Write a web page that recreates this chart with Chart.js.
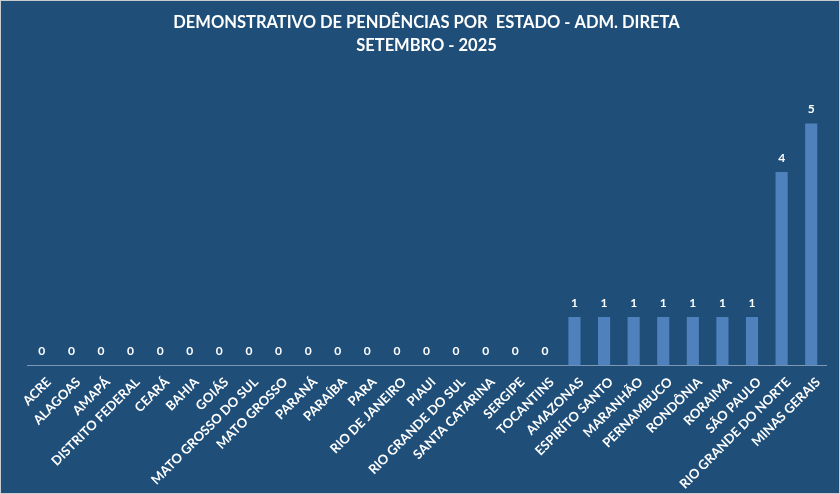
<!DOCTYPE html>
<html>
<head>
<meta charset="utf-8">
<script src="https://cdn.jsdelivr.net/npm/chart.js@4.4.1/dist/chart.umd.min.js"></script>
<style>
  html, body { margin: 0; padding: 0; background: #ffffff; }
  #wrap { width: 838px; height: 492px; border: 1px solid #c9ccd1; background: #1F4E79; }
</style>
</head>
<body>
<div id="wrap"><canvas id="pendencias" width="838" height="492"></canvas></div>
<script>
const estados = [
  'ACRE', 'ALAGOAS', 'AMAPÁ', 'DISTRITO FEDERAL', 'CEARÁ', 'BAHIA', 'GOIÁS',
  'MATO GROSSO DO SUL', 'MATO GROSSO', 'PARANÁ', 'PARAÍBA', 'PARA',
  'RIO DE JANEIRO', 'PIAUI', 'RIO GRANDE DO SUL', 'SANTA CATARINA', 'SERGIPE',
  'TOCANTINS', 'AMAZONAS', 'ESPIRÍTO SANTO', 'MARANHÃO', 'PERNAMBUCO',
  'RONDÔNIA', 'RORAIMA', 'SÃO PAULO', 'RIO GRANDE DO NORTE', 'MINAS GERAIS'
]
const pendencias = [0, 0, 0, 0, 0, 0, 0, 0, 0, 0, 0, 0, 0, 0, 0, 0, 0, 0, 1, 1, 1, 1, 1, 1, 1, 4, 5]
const titulo = ['DEMONSTRATIVO DE PENDÊNCIAS POR  ESTADO - ADM. DIRETA', 'SETEMBRO - 2025']

// rotulos de valor em cima das barras
const valorLabels = {
  id: 'valorLabels',
  afterDatasetsDraw(chart) {
    const ctx = chart.ctx
    const meta = chart.getDatasetMeta(0)
    ctx.save()
    ctx.fillStyle = '#ffffff'
    ctx.font = 'bold 12px Lato'
    ctx.textAlign = 'center'
    ctx.textBaseline = 'bottom'
    meta.data.forEach((bar, i) => {
      ctx.fillText(pendencias[i], bar.x, bar.y - 8)
    })
    ctx.restore()
  }
}

new Chart(document.getElementById('pendencias'), {
  type: 'bar',
  data: {
    labels: estados,
    datasets: [{
      data: pendencias,
      backgroundColor: '#4F81BD',
      categoryPercentage: 1,
      barPercentage: 0.41
    }]
  },
  options: {
    responsive: false,
    animation: false,
    layout: { padding: { left: 26, right: 13, top: 0, bottom: 0 } },
    plugins: {
      legend: { display: false },
      tooltip: { enabled: false },
      title: {
        display: true,
        text: titulo,
        color: '#ffffff',
        font: { family: 'Lato', size: 16.5, weight: 'bold', lineHeight: 1.4 },
        padding: { top: 10, bottom: 18 }
      }
    },
    scales: {
      x: {
        grid: { display: false },
        border: { display: true, color: '#7f98b5', width: 1 },
        ticks: {
          color: '#ffffff',
          font: { family: 'Lato', size: 13, weight: 'bold' },
          minRotation: 45,
          maxRotation: 45,
          autoSkip: false,
          labelOffset: 7,
          padding: 1
        }
      },
      y: {
        display: false,
        min: 0,
        max: 6
      }
    }
  },
  plugins: [valorLabels]
})
</script>
</body>
</html>
